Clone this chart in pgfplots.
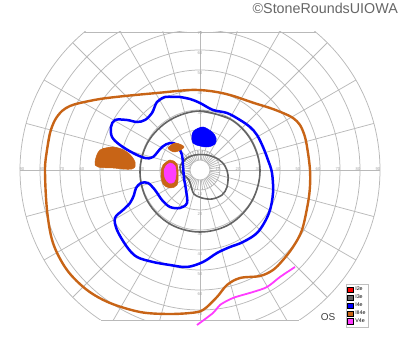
\documentclass[border=0pt]{standalone}
\usepackage{pgfplots}
\pgfplotsset{compat=1.18}
\usepackage{fontspec}
\setmainfont{Liberation Sans}
\definecolor{gridc}{RGB}{185,185,185}
\definecolor{orng}{RGB}{200,100,22}
\definecolor{magn}{RGB}{255,60,255}
\definecolor{gcont}{RGB}{100,100,100}
\begin{document}
\begin{tikzpicture}
\begin{axis}[
  scale only axis, width=400pt, height=352pt,
  xmin=-100, xmax=100, ymin=-91, ymax=85,
  hide axis, clip=false,
  legend image code/.code={\fill[#1] (0pt,-2.8pt) rectangle (5.6pt,2.8pt);},
  legend style={at={(axis cs:73,-57)}, anchor=north west,
    font=\fontsize{5.3}{6}\selectfont, draw=gray!50, line width=0.6pt,
    inner sep=0.8pt, row sep=-1.2pt, cells={anchor=west}},
]
\path (axis cs:-100,-91) rectangle (axis cs:100,85);
% grid
\begin{scope}
\clip (axis cs:-100,-75) rectangle (axis cs:100,69);
\pgfplotsinvokeforeach{5,10,20,30,40,50,60,70,80,90}{\draw[gridc, line width=0.75pt] (axis cs:0,0) circle[radius=#1];}
\pgfplotsinvokeforeach{0,15,...,345}{\draw[gridc, line width=0.75pt] (axis cs:{5*cos(#1)},{5*sin(#1)}) -- (axis cs:{90*cos(#1)},{90*sin(#1)});}
\pgfplotsinvokeforeach{7.5,22.5,...,352.5}{\draw[gridc, line width=0.75pt] (axis cs:{5*cos(#1)},{5*sin(#1)}) -- (axis cs:{10*cos(#1)},{10*sin(#1)});}
\end{scope}
\draw[gridc, line width=0.75pt] (axis cs:-57.8,69) -- (axis cs:57.8,69);
\draw[gridc, line width=0.75pt] (axis cs:-49.7,-75) -- (axis cs:49.7,-75);
% tick labels
\pgfplotsinvokeforeach{10,20,30,40,50,60,70,80,90}{
  \node[text=gray!70, font=\fontsize{4.2}{4}\selectfont, inner sep=0pt] at (axis cs:#1-1,0.5) {#1};
  \node[text=gray!70, font=\fontsize{4.2}{4}\selectfont, inner sep=0pt] at (axis cs:-#1+1,0.5) {#1};}
\pgfplotsinvokeforeach{10,20,30,40,50,60,70}{
  \node[text=gray!70, font=\fontsize{4.2}{4}\selectfont, inner sep=0pt] at (axis cs:0,#1-1.5) {#1};
  \node[text=gray!70, font=\fontsize{4.2}{4}\selectfont, inner sep=0pt] at (axis cs:0,-#1-2) {#1};}

% III4e outer isopter
\addplot[orng, line width=2.4pt, smooth, tension=0.55, forget plot] coordinates {
(-76.5,10) (-75,18.5) (-72.5,25) (-69,29.5) (-65,32) (-60,33.5) (-50,35.5) (-37.5,37) (-21.5,38.5) (-5,40) (5,39.5)
(15,37.5) (27,33.5) (35,31) (41.5,28.5) (46.5,26) (50,22.5) (52.5,16.5) (54,8.5) (55,0) (55,-8) (54,-16.5) (51,-30) (46.5,-38.5) (41.5,-45)
(36.5,-50) (30,-53) (20,-54) (13.5,-57.5) (8.5,-63.5) (1.5,-70) (-5,-71.5) (-16.5,-72) (-30,-71) (-45,-66.5)
(-56.5,-60) (-66.5,-50) (-73.5,-36.5) (-76.5,-20) (-77.5,0) (-76.5,10) (-75,18.5)};

% I3e outer isopter
\addplot[gcont, line width=1.6pt, smooth, tension=0.6, forget plot] coordinates {
(0,29.5) (15,25.5) (25.5,15) (30,0) (26,-15.5) (15,-27) (0,-31) (-15,-27) (-26,-16) (-30,-1) (-26,14) (-15,25) (0,29.5) (15,25.5)};

% I3e inner isopter
\addplot[gcont, line width=1.6pt, smooth, tension=0.55, forget plot] coordinates {
(-9,3.5) (-6.5,6) (-2.5,7.5) (3.5,7.5) (9,5.5) (12.5,2) (14,-2.5) (13.5,-8.5) (11,-12.5) (6,-14.5) (1,-14) (-3,-12)
(-4.5,-8) (-5.5,-5) (-7.5,-3) (-9.5,-1) (-10,1.5) (-9,3.5) (-6.5,6)};

% I4e isopter
\addplot[blue, line width=2.5pt, smooth, tension=0.55, forget plot] coordinates {
(-10,36.5) (-5,35.5) (0,33.5) (6.5,30) (13.5,28.5) (20,25) (25,21.5) (28.5,17.5) (31.5,11.5) (34,5) (36,-1.5) (36.5,-11.5) (34.5,-21.5)
(29,-31) (21.5,-36) (15,-38.5) (8.5,-41.5) (1.5,-46) (-6.5,-48.5) (-15,-47.5) (-23.5,-46) (-31.5,-43.5)
(-36.5,-38.5) (-41.5,-30) (-42.5,-24) (-38.5,-20) (-35,-16.5) (-33,-12.5) (-32,-9) (-29.5,-6.5) (-26,-6.5)
(-22.5,-10) (-19,-15) (-15,-18.5) (-10,-19) (-6.5,-16.5) (-7,-10) (-8,-4) (-8.5,2.5) (-9,7.5) (-11.5,12.5)
(-15,13.5) (-19,11.5) (-23.5,6.5) (-27.5,6) (-33.5,8.5) (-40,12.5) (-44,16.5) (-44.5,21.5) (-42.5,25) (-36.5,25)
(-31.5,24) (-27.5,25) (-24,28.5) (-21.5,34) (-17.5,36.5) (-13.5,36.5) (-10,36.5) (-5,35.5)};

% I4e scotoma (filled)
\addplot[blue, fill=blue, line width=0.5pt, smooth, tension=0.6, forget plot] coordinates {
(-2.5,20) (1.5,21.5) (6,19) (8,16) (7.5,13) (4,11.5) (0,12) (-3.5,13.5) (-4,17.5) (-2.5,20) (1.5,21.5)};

% III4e islands
\addplot[orng, fill=orng, line width=0.5pt, smooth, tension=0.6, forget plot] coordinates {
(-50,10) (-43.5,11.5) (-36.5,9) (-32.5,4) (-34,0.5) (-43.5,1) (-51,1.5) (-52.5,4) (-50,10) (-43.5,11.5)};
\addplot[orng, fill=orng, line width=0.5pt, smooth, tension=0.6, forget plot] coordinates {
(-16,11) (-12.5,13.5) (-8,11.5) (-12.5,9) (-16,11) (-12.5,13.5)};
\addplot[orng, fill=orng, line width=0.5pt, smooth, tension=0.6, forget plot] coordinates {
(-18.5,2.5) (-15,5) (-11.5,3) (-11,-2.5) (-11.5,-7.5) (-15,-9) (-18.5,-7) (-19.5,-2) (-18.5,2.5) (-15,5)};
% V4e island
\addplot[magn, fill=magn, line width=0.5pt, smooth, tension=0.6, forget plot] coordinates {
(-17,2) (-15,3.5) (-12.5,2) (-12,-2.5) (-13,-6) (-15.5,-6.5) (-17.5,-4) (-18,0) (-17,2) (-15,3.5)};
% V4e line
\addplot[magn, line width=1.8pt, smooth, tension=0.5, forget plot] coordinates {
(-1.5,-77.5) (6.5,-71.5) (10,-67.5) (16.5,-64) (26.5,-61) (33.5,-58.5) (40,-53.5) (47.5,-48.5)};

% legend
\addlegendimage{fill=red}\addlegendentry{I2e}
\addlegendimage{fill=gcont}\addlegendentry{I3e}
\addlegendimage{fill=blue}\addlegendentry{I4e}
\addlegendimage{fill=orng}\addlegendentry{III4e}
\addlegendimage{fill=magn}\addlegendentry{V4e}

\node[font=\fontsize{10}{10}\selectfont, text=black!75] at (axis cs:64,-73.5) {OS};
\node[font=\fontsize{14.3}{15}\selectfont, text=black!60, anchor=east, inner sep=0pt] at (axis cs:99,81) {©StoneRoundsUIOWA};
\end{axis}
\end{tikzpicture}
\end{document}
